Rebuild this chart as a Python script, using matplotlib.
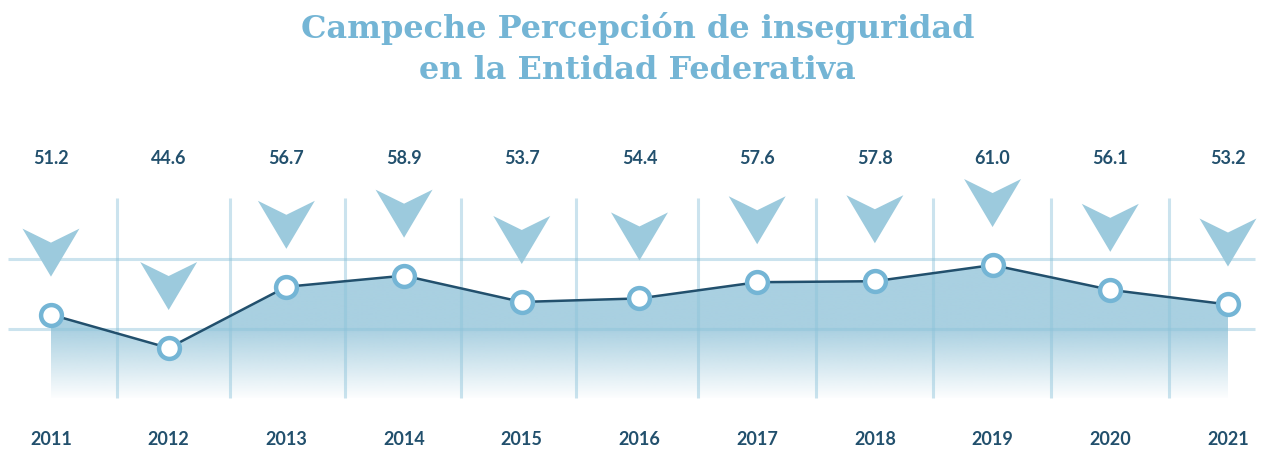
import matplotlib
matplotlib.use("Agg")
import matplotlib.pyplot as plt
import numpy as np
from matplotlib.patches import Polygon

# data
years = ['2011', '2012', '2013', '2014', '2015', '2016', '2017', '2018', '2019', '2020', '2021']
values = [51.2, 44.6, 56.7, 58.9, 53.7, 54.4, 57.6, 57.8, 61.0, 56.1, 53.2]
value_labels = ['51.2', '44.6', '56.7', '58.9', '53.7', '54.4', '57.6', '57.8', '61.0', '56.1', '53.2']
title = 'Campeche Percepción de inseguridad\nen la Entidad Federativa'

# colours
dark = '#22506d'
light = '#74b5d5'
fillc = '#a9d0e1'
chev = '#9ccadd'
gridc = '#8cc3da'

fig = plt.figure(figsize=(12.62, 4.49), dpi=100)
ax = fig.add_axes([0, 0, 1, 1])
ax.set_xlim(-0.433, 10.289)
ax.set_ylim(24.64, 113.37)
ax.axis('off')

x = np.arange(len(years))
base = 34.72

# gradient fill under line
poly = ax.fill_between(x, values, base, color='none', lw=0)
top = 62.5
grad_v = np.linspace(top, base, 200)
alpha = np.clip((grad_v - base) / (48.3 - base), 0, 1) * 0.97 + 0.03
rgb = matplotlib.colors.to_rgb(fillc)
img = np.zeros((200, 2, 4))
img[:, :, 0], img[:, :, 1], img[:, :, 2] = rgb
img[:, :, 3] = alpha[:, None]
im = ax.imshow(img, extent=[x[0], x[-1], base, top], aspect='auto', zorder=1, interpolation='bilinear')
clip = Polygon(poly.get_paths()[0].vertices, transform=ax.transData)
im.set_clip_path(clip)

# decorative grid
for yv in [62.19, 48.35]:
    ax.plot([-0.365, 10.23], [yv, yv], color=gridc, alpha=0.45, lw=2.2, zorder=2, solid_capstyle='butt')
for xv in [0.56, 1.52, 2.5, 3.48, 4.46, 5.5, 6.5, 7.49, 8.5, 9.5]:
    ax.plot([xv, xv], [34.72, 74.24], color=gridc, alpha=0.45, lw=2.2, zorder=2, solid_capstyle='butt')

# chevrons above each point
for xi, v in zip(x, values):
    tip = v + 7.5
    hw = 0.242
    pts = [(xi - hw, tip + 9.49), (xi, tip + 6.72), (xi + hw, tip + 9.49), (xi, tip)]
    ax.add_patch(Polygon(pts, closed=True, color=chev, lw=0, zorder=3))

# line + markers
ax.plot(x, values, color=dark, lw=1.8, zorder=4)
ax.plot(x, values, 'o', ms=15, mfc='white', mec=light, mew=3.2, zorder=5)

tr = ax.get_xaxis_transform()
for xi, lab, yr in zip(x, value_labels, years):
    ax.text(xi, 0.648, lab, transform=tr, ha='center', va='center', fontsize=13,
            fontweight='bold', family='Lato', color=dark)
    ax.text(xi, 0.022, yr, transform=tr, ha='center', va='center', fontsize=13,
            fontweight='bold', family='Lato', color=dark)

fig.text(0.505, 0.89, title, ha='center', va='center', fontsize=23, fontweight='bold',
         family='DejaVu Serif', color=light, linespacing=1.42)

fig.savefig('out.png', dpi=100)
